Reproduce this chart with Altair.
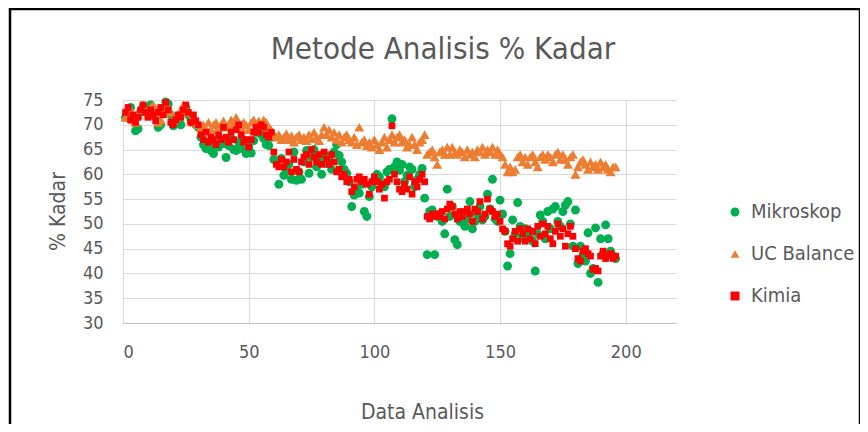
import altair as alt
import pandas as pd

series_names = ["Mikroskop", "UC Balance", "Kimia"]

mikroskop = [
    71.5, 72.0, 73.5, 71.0, 68.8, 69.2, 72.5, 73.8, 73.0, 72.2,
    74.0, 73.2, 71.5, 69.5, 70.0, 72.8, 74.6, 74.2, 72.0, 69.8,
    70.5, 71.8, 70.0, 72.5, 73.5, 72.0, 71.0, 70.5, 70.0, 69.5,
    67.5, 66.0, 65.2, 66.5, 64.8, 64.2, 66.0, 65.5, 67.0, 66.2,
    63.4, 65.8, 67.2, 65.0, 64.8, 66.5, 65.2, 67.0, 64.2, 65.5,
    64.3, 66.8, 68.5, 69.5, 68.0, 67.2, 66.0, 65.8, 67.5, 63.0,
    62.5, 58.0, 63.2, 59.8, 61.0, 62.0, 59.0, 64.5, 58.8, 60.5,
    59.0, 62.5, 64.8, 60.2, 63.5, 65.0, 61.5, 62.8, 60.0, 64.0,
    62.2, 63.5, 61.0, 64.5, 66.0, 63.8, 62.5, 61.0, 60.2, 58.5,
    53.5, 55.8, 56.8, 56.2, 58.0, 52.5, 51.5, 55.5, 57.5, 58.8,
    60.0, 59.5, 58.0, 57.5, 60.5, 61.0, 71.2, 61.5, 62.5, 60.8,
    62.0, 58.5, 59.8, 61.5, 61.0, 57.5, 59.0, 60.0, 61.2, 55.2,
    43.8, 52.5, 52.8, 43.8, 51.5, 52.0, 50.5, 48.0, 57.0, 51.5,
    53.5, 46.8, 45.8, 50.5, 52.0, 49.5, 51.0, 54.5, 49.0, 50.5,
    52.0, 53.5, 50.8, 51.5, 56.0, 53.0, 59.0, 51.0, 50.5, 54.8,
    52.0, 48.5, 41.5, 44.0, 50.8, 48.0, 54.3, 49.5, 47.2, 49.0,
    47.5, 48.5, 46.5, 40.5, 48.0, 51.8, 50.5, 47.0, 52.5, 49.0,
    53.0, 53.5, 50.5, 49.5, 52.5, 53.8, 54.5, 50.0, 45.5, 52.8,
    42.0, 45.5, 43.8, 42.5, 48.2, 40.0, 41.0, 49.2, 38.2, 47.0,
    44.0, 49.8, 47.0, 44.5, 43.5, 43.0,
]

uc_balance = [
    71.5, 72.5, 73.0, 71.0, 70.5, 72.0, 73.5, 74.0, 73.0, 72.0,
    73.5, 74.0, 72.5, 70.5, 71.0, 73.0, 74.0, 73.5, 72.5, 71.0,
    71.5, 72.0, 73.0, 74.0, 73.5, 72.5, 71.0, 70.5, 71.0, 70.0,
    69.5, 70.0, 69.0, 70.5, 69.0, 70.0, 70.5, 69.5, 70.0, 70.8,
    69.5, 70.0, 71.0, 70.5, 71.5, 70.0, 69.5, 70.5, 70.0, 69.0,
    70.5, 71.0, 70.0, 70.8, 69.8, 71.0, 70.5, 69.5, 69.0, 68.0,
    67.5, 68.0, 67.0, 67.5, 68.2, 67.0, 67.8, 66.5, 67.5, 68.0,
    67.0, 67.5, 66.8, 68.0, 67.2, 68.5, 67.5, 66.8, 68.0, 69.5,
    68.0, 69.0, 67.5, 68.5, 67.0, 68.0, 66.5, 67.5, 68.0, 67.0,
    66.5, 67.5, 66.0, 69.5, 66.5, 67.0, 65.8, 66.5, 65.5, 67.0,
    66.0, 65.0, 66.5, 67.5, 65.5, 67.0, 68.0, 66.5, 67.5, 68.0,
    66.5, 67.0, 65.5, 66.0, 67.5, 66.0, 65.0, 66.5, 67.0, 68.0,
    64.0, 64.5, 65.0, 63.5, 62.0, 64.5, 65.0, 64.0, 65.5, 64.0,
    65.5, 64.5, 64.0, 65.0, 64.5, 63.5, 65.0, 64.0, 64.5, 63.5,
    65.0, 64.5, 65.5, 64.0, 65.0, 64.5, 65.5, 64.0, 65.0, 64.0,
    63.5, 62.0, 60.5, 61.5, 60.5, 61.0, 63.5, 64.0, 62.5, 63.5,
    62.0, 63.5, 64.0, 62.5, 61.5, 63.5, 64.0, 63.0, 64.0, 63.5,
    62.5, 64.0, 64.5, 63.0, 64.0, 63.0, 62.0, 63.5, 64.0, 60.0,
    61.5, 62.5, 63.0, 62.0, 61.0, 62.5, 61.5, 62.0, 61.0, 62.5,
    61.5, 62.0, 61.0, 60.5, 61.5, 61.5,
]

kimia = [
    72.5, 73.5, 71.0, 72.0, 70.5, 71.5, 73.0, 74.0, 72.5, 71.5,
    73.0, 72.0, 70.8, 72.5, 73.5, 72.0, 74.5, 73.0, 70.5, 70.0,
    71.0, 72.0, 71.5, 73.0, 74.0, 72.5, 70.5, 72.0, 70.8, 70.0,
    68.0, 67.0, 68.5, 66.5, 67.5, 67.0, 66.0, 68.0, 67.0, 69.5,
    67.5, 66.5, 68.5, 67.0, 69.0, 70.0, 68.0, 66.5, 67.0, 65.5,
    67.0, 68.5, 69.5, 68.5, 70.0, 69.5, 68.0, 67.5, 68.5, 64.5,
    62.0, 61.5, 63.0, 61.5, 62.5, 64.5, 60.5, 63.0, 61.0, 60.5,
    62.5, 63.5, 64.0, 62.0, 65.0, 63.5, 62.5, 64.0, 62.0, 64.5,
    63.0, 62.0, 64.0, 62.5, 60.5, 61.0, 59.5, 60.0, 58.5, 59.0,
    56.5, 57.5, 59.0, 59.5, 58.5, 59.0, 58.0, 56.0, 58.5, 59.5,
    58.5, 57.0, 58.0, 55.2, 58.5, 59.0, 69.8, 60.0, 58.5, 57.0,
    56.5, 58.0, 57.0, 59.5, 56.0, 58.5, 57.5, 59.0, 60.0, 58.5,
    51.5, 51.0, 52.0, 51.5, 52.0, 51.5, 52.5, 51.0, 53.0, 54.0,
    53.5, 52.0, 51.0, 52.5, 51.5, 52.5, 53.0, 52.0, 50.5, 53.0,
    52.5, 54.5, 51.0, 52.0, 55.0, 53.0, 52.5, 51.5, 52.0, 50.5,
    49.0, 48.5, 46.0, 45.5, 47.0, 48.5, 46.5, 49.0, 48.0, 46.5,
    49.0, 47.0, 48.5, 46.0, 49.5, 47.5, 50.0, 48.0, 49.5, 47.0,
    46.0, 48.5, 50.0, 47.5, 49.0, 45.5, 48.0, 49.5, 47.5, 45.0,
    43.0, 42.5, 44.5, 45.0, 44.0, 43.5, 40.8, 41.0, 40.5, 43.5,
    44.5, 43.0, 43.5, 44.0, 43.0, 43.5,
]

x_ticks = [0, 50, 100, 150, 200]
y_ticks = [30, 35, 40, 45, 50, 55, 60, 65, 70, 75]
chart_title = "Metode Analisis % Kadar"

rows = []
for name, vals in zip(series_names, [mikroskop, uc_balance, kimia]):
    for i, v in enumerate(vals):
        rows.append({"series": name, "idx": i + 1, "kadar": v})
df = pd.DataFrame(rows)

FONT = "'Liberation Sans Narrow', 'DejaVu Sans Condensed', 'Roboto Condensed', 'Liberation Sans', sans-serif"
GRAY = "#595959"
W, H = 553, 223

legend = alt.Legend(title=None, orient="none", legendX=602, legendY=102,
                    rowPadding=22, labelOffset=6, symbolSize=80)

base = alt.Chart(df).encode(
    x=alt.X("idx:Q", scale=alt.Scale(domain=[0, 220], nice=False),
            axis=alt.Axis(values=x_ticks, title="Data Analisis", grid=True,
                          ticks=False, domain=True, domainColor="#BFBFBF",
                          labelPadding=20, titleX=299, titleY=89,
                          titleBaseline="middle")),
    y=alt.Y("kadar:Q", scale=alt.Scale(domain=[30, 75], nice=False, zero=False),
            axis=alt.Axis(values=y_ticks, title="% Kadar", grid=True,
                          ticks=False, domain=False, labelPadding=20,
                          titleX=-65, titleY=111, titleAngle=270,
                          titleAlign="center", titleBaseline="middle")),
    color=alt.Color("series:N",
                    scale=alt.Scale(domain=series_names,
                                    range=["#00B050", "#ED7D31", "#FF0000"]),
                    legend=legend),
    shape=alt.Shape("series:N",
                    scale=alt.Scale(domain=series_names,
                                    range=["circle", "triangle-up", "square"]),
                    legend=legend),
)

sizes = {"Mikroskop": 80, "UC Balance": 100, "Kimia": 45}
layers = [
    base.transform_filter(alt.datum.series == name)
        .mark_point(filled=True, opacity=1, size=sizes[name])
    for name in series_names
]

border = alt.Chart(pd.DataFrame({"a": [0]})).mark_rect(
    fill=None, stroke="#000000", strokeWidth=2.5
).encode(
    x=alt.value(-113), x2=alt.value(737),
    y=alt.value(-91), y2=alt.value(360),
)

title_text = alt.Chart(pd.DataFrame({"t": [chart_title]})).mark_text(
    font=FONT, fontSize=31, color=GRAY, align="center", baseline="alphabetic"
).encode(
    text="t:N", x=alt.value(320), y=alt.value(-41),
)

chart = alt.layer(*layers, border, title_text).properties(
    width=W, height=H,
    autosize=alt.AutoSizeParams(type="none"),
    padding={"left": 115, "top": 92, "right": 184, "bottom": 101},
).configure(
    background="white"
).configure_view(
    stroke=None
).configure_axis(
    labelFont=FONT, titleFont=FONT, labelColor=GRAY, titleColor=GRAY,
    labelFontSize=18, titleFontSize=21, titleFontWeight="normal",
    gridColor="#D9D9D9", gridWidth=1,
).configure_legend(
    labelFont=FONT, labelFontSize=20, labelColor=GRAY,
)

chart.save("out.html", embed_options={"renderer": "svg", "actions": False})
